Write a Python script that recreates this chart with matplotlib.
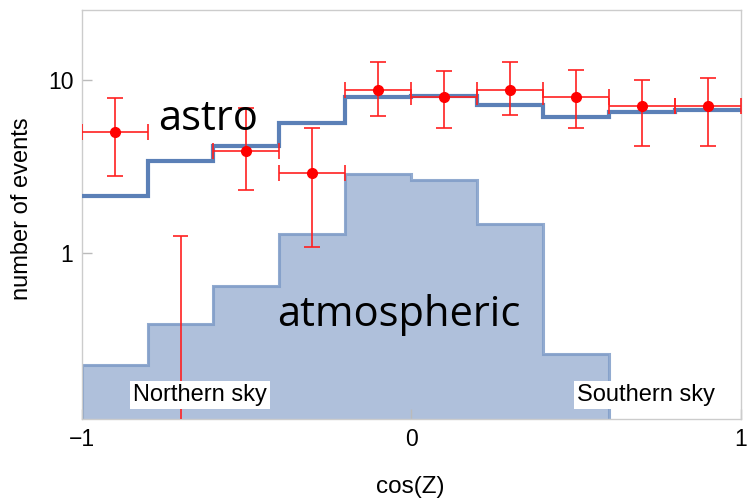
import numpy as np
import matplotlib
matplotlib.use("Agg")
import matplotlib.pyplot as plt

# cos(Z) bin edges (0.2 wide)
bin_edges = [-1.0, -0.8, -0.6, -0.4, -0.2, 0.0, 0.2, 0.4, 0.6, 0.8, 1.0]

# expected astrophysical events per bin
astro = [2.15, 3.42, 4.14, 5.65, 8.01, 8.11, 7.2, 6.09, 6.48, 6.74]

# expected atmospheric events per bin (zero in the last two bins)
atmospheric = [0.225, 0.391, 0.648, 1.29, 2.87, 2.64, 1.47, 0.262, 0.0, 0.0]

# observed events with asymmetric errors
obs_x = [-0.9, -0.5, -0.3, -0.1, 0.1, 0.3, 0.5, 0.7, 0.9]
obs_y = [5.0, 3.9, 2.9, 8.75, 8.0, 8.75, 8.0, 7.1, 7.1]
obs_hi = [7.87, 6.87, 5.26, 12.7, 11.3, 12.7, 11.4, 10.0, 10.2]
obs_lo = [2.78, 2.30, 1.09, 6.22, 5.28, 6.27, 5.26, 4.16, 4.16]
obs_xerr = 0.1

# empty bin: only an upper limit
limit_x = [-0.7]
limit_hi = [1.26]

x_ticks = [-1, 0, 1]
x_tick_labels = ["\u22121", "0", "1"]
y_ticks = [1, 10]
y_tick_labels = ["1", "10"]

y_min, y_max = 0.110, 25.3

fig = plt.figure(figsize=(7.48, 4.98), dpi=100)
ax = fig.add_axes([0.1092, 0.158, 0.881, 0.822])
ax.set_yscale("log")
ax.set_xlim(-1, 1)
ax.set_ylim(y_min, y_max)

edges = np.array(bin_edges)

# atmospheric: filled step histogram
atm = np.array(atmospheric)
atm_vals = np.where(atm > 0, atm, y_min * 0.5)
ax.stairs(atm_vals, edges, baseline=y_min * 0.5,
          fill=True, color="#afc0db", zorder=1)
ax.stairs(atm_vals, edges, baseline=y_min * 0.5,
          fill=False, color="#7f9cc8", linewidth=2.2, alpha=0.85, zorder=1.5)

# astrophysical expectation: step line
ax.stairs(astro, edges, baseline=None, color="#5b80b7", linewidth=3.0, zorder=3)

# observed data
yerr = [np.array(obs_y) - np.array(obs_lo), np.array(obs_hi) - np.array(obs_y)]
ax.errorbar(obs_x, obs_y, yerr=yerr, xerr=obs_xerr, fmt="o", color="#ff0000",
            ecolor="#ff2020", elinewidth=1.2, capsize=5.5, capthick=1.2,
            markersize=7, zorder=4)

# upper limit for the empty bin
for xv, hv in zip(limit_x, limit_hi):
    ax.vlines(xv, y_min * 0.5, hv, color="#ff2020", linewidth=1.2, zorder=4)
    ax.hlines(hv, xv - 0.023, xv + 0.023, color="#ff2020", linewidth=1.2, zorder=4)

# annotations
ax.text(-0.768, 5.14, "astro", fontsize=30, family="Open Sans",
        ha="left", va="baseline", zorder=5)
ax.text(-0.407, 0.381, "atmospheric", fontsize=30, family="Open Sans",
        ha="left", va="baseline", zorder=5)
box = dict(facecolor="white", edgecolor="none", pad=2.0)
ax.text(-0.641, 0.152, "Northern sky", fontsize=17, family="Liberation Sans",
        ha="center", va="center", bbox=box, zorder=5)
ax.text(0.713, 0.152, "Southern sky", fontsize=17, family="Liberation Sans",
        ha="center", va="center", bbox=box, zorder=5)

# axes styling
for s in ax.spines.values():
    s.set_color("#cccccc")
    s.set_linewidth(1.0)
ax.set_xticks(x_ticks)
ax.set_xticklabels(x_tick_labels)
ax.set_yticks(y_ticks)
ax.set_yticklabels(y_tick_labels)
ax.minorticks_off()
ax.tick_params(direction="in", length=7, width=1, color="#bbbbbb",
               labelsize=16.5, pad=6)
for lab in ax.get_xticklabels() + ax.get_yticklabels():
    lab.set_family("Liberation Sans")

fig.text(22 / 748, 1 - 209 / 498, "number of events", rotation=90,
         fontsize=17, family="Liberation Sans", ha="center", va="center")
fig.text(410 / 748, 1 - 487 / 498, "cos(Z)", fontsize=17.5,
         family="Liberation Sans", ha="center", va="center")

fig.savefig("out.png", dpi=100)
